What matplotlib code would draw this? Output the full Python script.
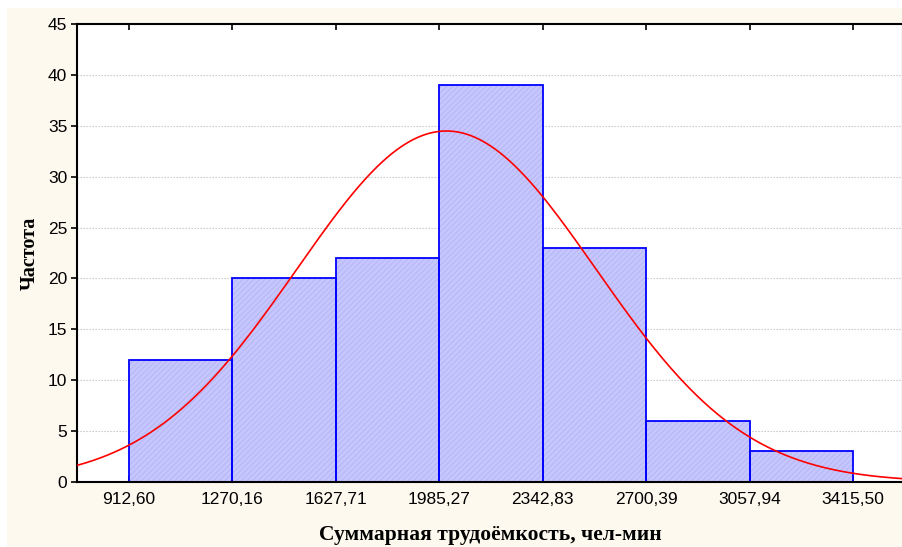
import numpy as np
import matplotlib.pyplot as plt
from matplotlib.patches import Rectangle

# Границы интервалов и частоты
bin_edges = [912.60, 1270.16, 1627.71, 1985.27, 2342.83, 2700.39, 3057.94, 3415.50]
edge_labels = ['912,60', '1270,16', '1627,71', '1985,27', '2342,83', '2700,39', '3057,94', '3415,50']
counts = [12, 20, 22, 39, 23, 6, 3]

# Параметры нормальной кривой (по оценке с рисунка)
mean_val = 2010.0
std_val = 517.0

fig = plt.figure(figsize=(9.03, 5.47), dpi=100, facecolor='white')
fig.patches.append(Rectangle((7 / 903, 0), 1 - 7 / 903, 539 / 547, transform=fig.transFigure,
                             facecolor='#FDF9EE', edgecolor='none', zorder=-10))

ax = fig.add_axes([77 / 903, 65 / 547, 826 / 903, 458 / 547])
ax.set_facecolor('white')

widths = np.diff(bin_edges)
plt.rcParams['hatch.linewidth'] = 0.5
# заливка со штриховкой (цвет штриховки = edgecolor), затем синяя рамка
ax.bar(bin_edges[:-1], counts, width=widths, align='edge', color='#C6C6FE',
       edgecolor='#B0B0F4', linewidth=0, hatch='//////', zorder=2)
ax.bar(bin_edges[:-1], counts, width=widths, align='edge', fill=False,
       edgecolor='#0000FF', linewidth=1.3, zorder=2.5)

w = widths.mean()
n = sum(counts)
xs = np.linspace(732.8, 3588.4, 400)
ys = n * w / (std_val * np.sqrt(2 * np.pi)) * np.exp(-0.5 * ((xs - mean_val) / std_val) ** 2)
ax.plot(xs, ys, color='#FF0000', linewidth=1.2, zorder=3)

ax.set_xlim(732.8, 3588.4)
ax.set_ylim(0, 45)
ax.set_yticks(range(0, 46, 5))
ax.set_xticks(bin_edges)
ax.set_xticklabels(edge_labels)

ax.yaxis.grid(True, linestyle=(0, (1.2, 1.5)), color='#C2C2C2', linewidth=0.8)
ax.set_axisbelow(True)

ax.tick_params(axis='y', which='both', left=True, right=True, direction='out',
               length=4, width=1.2, labelsize=12.5, pad=3)
ax.tick_params(axis='x', which='both', top=True, bottom=True, direction='in',
               length=4, width=1.2, labelsize=12.5, pad=7)
for lab in ax.get_xticklabels() + ax.get_yticklabels():
    lab.set_fontfamily('Liberation Sans')

for sp in ax.spines.values():
    sp.set_linewidth(1.5)
    sp.set_color('black')

ax.set_xlabel('Суммарная трудоёмкость, чел-мин', fontfamily='Liberation Serif',
              fontweight='bold', fontsize=15.5, labelpad=13)
ax.set_ylabel('Частота', fontfamily='Liberation Serif', fontweight='bold',
              fontsize=14.5, labelpad=6)

fig.savefig('out.png', dpi=100, facecolor=fig.get_facecolor())
